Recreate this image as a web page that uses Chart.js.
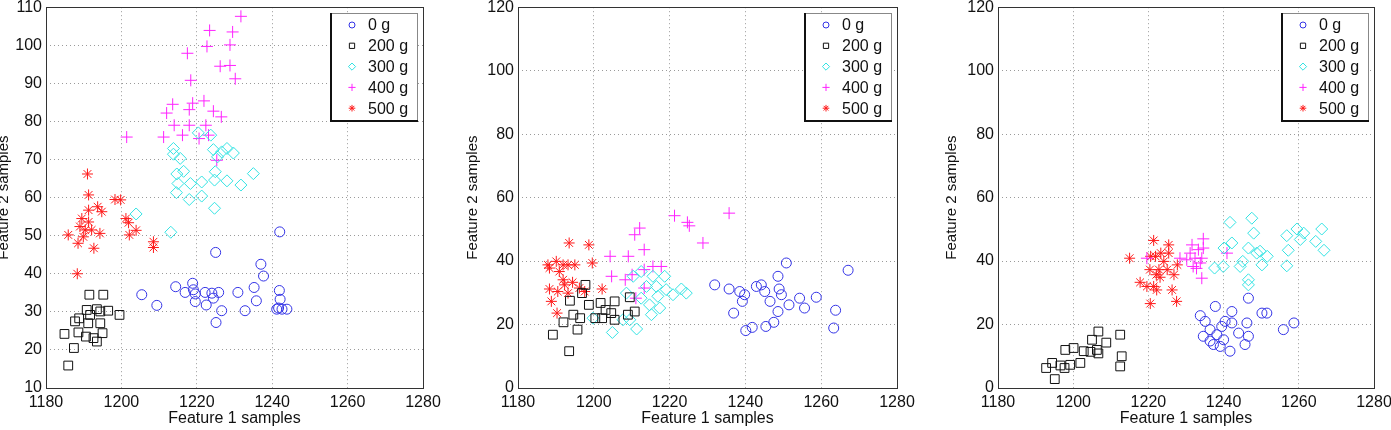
<!DOCTYPE html>
<html><head><meta charset="utf-8">
<script src="https://cdn.jsdelivr.net/npm/chart.js@4/dist/chart.umd.min.js"></script>
<style>
html,body{margin:0;padding:0;background:#fff;width:1391px;height:430px;overflow:hidden;position:relative}
canvas{position:absolute;top:0}
</style></head><body>
<canvas id="c1"></canvas><canvas id="c2"></canvas><canvas id="c3"></canvas>
<script>
const seriesLabels = ['0 g','200 g','300 g','400 g','500 g'];
const xTicks = [1180,1200,1220,1240,1260,1280];
const yTicks1 = [10,20,30,40,50,60,70,80,90,100,110];
const yTicks23 = [0,20,40,60,80,100,120];

// ---- Plot 1 ----
const p1_0g = [[1242,51],[1225,45.6],[1237,42.5],[1237.7,39.4],[1205.4,34.5],[1209.4,31.7],[1214.4,36.6],[1216.9,35.1],[1218.9,37.5],[1219.1,35.8],[1219.6,34.7],[1219.6,32.7],[1222.2,35.1],[1222.5,31.8],[1224,34.9],[1224.4,33.6],[1225.8,35.1],[1226.6,30.3],[1225.1,27.2],[1230.9,35.1],[1232.8,30.3],[1235.2,36.4],[1235.8,32.9],[1241.9,35.6],[1242.1,33.3],[1241.7,31],[1242.6,30.7],[1243.9,30.7],[1241.2,30.7]];
const p1_200g = [[1185.9,15.9],[1187.4,20.5],[1184.9,24.2],[1188.6,24.6],[1191.5,34.5],[1195.2,34.5],[1190.8,30.5],[1193.5,30.7],[1194.4,30.1],[1196.5,30.3],[1199.5,29.2],[1188.8,28.3],[1191.2,27],[1194.4,27],[1187.7,27.5],[1190.6,23.5],[1192.6,23.1],[1193.5,22.2],[1195,24.4],[1191.7,29.2]];
const p1_300g = [[1203.9,55.7],[1213.1,50.9],[1220.4,77],[1223.7,76.4],[1213.8,72.9],[1213.8,71.4],[1215.6,70.3],[1224.4,72.6],[1226.6,72],[1228,72.9],[1229.7,71.7],[1225.5,70.7],[1214.7,66.2],[1216.5,66.9],[1215,63.7],[1214.6,61.3],[1218.3,63.7],[1221.3,64.1],[1218,59.5],[1221.3,60.4],[1224.7,64.6],[1228,64.4],[1231.7,63.3],[1235,66.3],[1224.7,57.2],[1224.9,66.8]];
const p1_400g = [[1231.7,107.6],[1223.4,103.9],[1229.5,103.5],[1222.7,99.7],[1228.8,100.1],[1217.5,97.9],[1226.2,94.5],[1228.8,94.7],[1218.4,90.8],[1230.2,91.2],[1212,82.2],[1213.6,84.5],[1218,83.1],[1218.9,84.8],[1221.9,85.4],[1224.4,82.7],[1214,79],[1218,79],[1222.4,79],[1216.2,76.4],[1220.6,75.5],[1223.1,76.4],[1201.4,75.9],[1225.3,69.8],[1211.2,75.9],[1226.5,81.2]];
const p1_500g = [[1191,66.2],[1191.3,60.7],[1185.9,50.2],[1188.3,40],[1189.5,54.5],[1189,52.4],[1191.3,56.7],[1193.7,57.6],[1191.3,53.6],[1194.3,50.6],[1192.7,46.7],[1188.5,48],[1189.9,49.7],[1192.1,51.5],[1194.8,56.3],[1198.3,59.5],[1199.8,59.4],[1201.2,54.5],[1201.9,53.4],[1202.1,50.2],[1203.9,51.4],[1208.5,48.4],[1208.5,46.9],[1190.4,51.5]];

// ---- Plot 2 ----
const p2_0g = [[1231.9,32.5],[1235.7,31.2],[1236.9,23.6],[1238.5,30.4],[1239.2,27.3],[1239.8,29.4],[1240.1,18.1],[1241.8,19.1],[1242.9,32],[1244.2,32.5],[1245.1,30.4],[1246.5,27.3],[1245.4,19.4],[1247.5,20.7],[1248.6,35.2],[1248.9,31.2],[1249.5,29.4],[1248.6,24.1],[1250.8,39.4],[1251.5,26.2],[1254.3,28.3],[1255.6,25.2],[1258.7,28.6],[1263.8,24.5],[1263.3,18.9],[1267.1,37.1]];
const p2_200g = [[1189.2,16.8],[1193.5,11.6],[1193.7,27.5],[1192,20.7],[1194.6,23.1],[1195.7,18.4],[1196.4,22],[1196.9,29.9],[1197.8,32.5],[1198.7,26.2],[1200.4,22],[1201.8,26.8],[1202.2,22],[1204.6,23.6],[1205.5,21.5],[1205.5,27.3],[1209,23.1],[1209.5,28.6],[1210.8,24.1],[1203.1,24.6]];
const p2_300g = [[1204.9,17.5],[1199.8,22],[1208.6,29.9],[1209.5,21.5],[1211.3,18.6],[1210.4,35.2],[1212.5,28.3],[1213.9,32],[1214.7,26.2],[1215.2,23.1],[1215.6,35.2],[1216.9,28.9],[1217.4,25.2],[1218.7,35.2],[1219.1,31],[1220.9,29.4],[1223.1,31.2],[1224.4,29.9],[1212.5,36.7],[1216.5,32],[1207.7,21.5]];
const p2_400g = [[1221.3,54.3],[1224.7,52.2],[1225.2,51.1],[1235.7,55.1],[1228.8,45.7],[1212.1,50.4],[1210.8,48.3],[1213.3,43.6],[1204.3,41.5],[1209.1,41.5],[1204.7,35.2],[1210.1,35.7],[1213.3,37.3],[1215.6,38.3],[1217.8,38.3],[1213.3,31.5],[1211.1,28.3],[1208.3,34.1]];
const p2_500g = [[1193.5,45.7],[1198.7,45.1],[1187.9,38.8],[1190.1,39.9],[1191.9,38.8],[1193.2,38.8],[1195,38.8],[1188.3,37.8],[1190.9,36.7],[1191.9,34.1],[1194.4,33.3],[1199.6,39.4],[1188.3,31.2],[1190.5,30.4],[1193.2,29.9],[1197.6,30.4],[1202.2,31.2],[1188.8,27.3],[1190.3,23.6],[1196.2,31.5],[1192.3,32.5]];

// ---- Plot 3 ----
const p3_0g = [[1237.8,25.7],[1233.8,22.8],[1235.1,21],[1236.4,18.4],[1236.4,14.8],[1237.3,13.7],[1239.1,13.1],[1239.5,19.4],[1240.4,21],[1242.2,24.1],[1242.2,20.5],[1240,15.2],[1241.7,11.6],[1244,17.3],[1246.2,20.5],[1246.6,28.3],[1245.7,13.7],[1246.6,16.3],[1250.2,23.6],[1251.5,23.6],[1255.9,18.4],[1258.7,20.5],[1234.6,16.3],[1238.2,16.8]];
const p3_200g = [[1192.8,6.3],[1195.1,2.8],[1194.4,7.9],[1196.6,7.1],[1197.7,6.3],[1197.9,12],[1200.1,12.6],[1199.2,7.3],[1201.9,7.9],[1202.8,11.6],[1205,15.2],[1206.3,12],[1206.7,17.8],[1206.7,10.9],[1208.8,14.3],[1212.5,16.8],[1212.9,10],[1212.5,6.8],[1204.6,11.4]];
const p3_300g = [[1241.7,52.2],[1247.5,53.5],[1242.2,45.7],[1248,48.8],[1259.5,50.1],[1261.3,48.8],[1266.1,50.1],[1256.8,48],[1264.5,46.2],[1266.7,43.4],[1257.2,43.4],[1256.8,38.5],[1240.1,44.1],[1239.9,38.3],[1237.6,37.8],[1244.4,38.3],[1245.1,39.9],[1246.6,44.1],[1248.8,42.5],[1249.7,43.1],[1250.2,38.8],[1246.6,34.1],[1246.6,32.5],[1251.6,41.5],[1260.4,46.8]];
const p3_400g = [[1234.6,47],[1234.6,44.1],[1231.6,45.1],[1233.3,43.6],[1231.1,42.5],[1230.2,40.4],[1228.4,40.9],[1232.4,40.9],[1234.2,40.9],[1231.9,38.3],[1232.8,37.7],[1234.2,34.6],[1240.9,42.5],[1233.8,39.4],[1219.6,40.9]];
const p3_500g = [[1215,40.9],[1221.4,46.5],[1225.4,45.1],[1220.5,26.6],[1227.5,27.3],[1217.8,33.3],[1219.6,32],[1221.4,32],[1222.2,30.9],[1220.6,41.5],[1221.9,41.5],[1223.3,42.5],[1225.4,42.5],[1224.1,39.9],[1222.8,37.3],[1225,37.3],[1226.8,35.7],[1227.7,38.8],[1222.1,35.7],[1226.3,30.9],[1220.4,37.3],[1223.1,34.9]];

const FONT = 'Liberation Sans, Arial, sans-serif';
const styles = [
  {pointStyle:'circle', radius:5, color:'#3333e6'},
  {pointStyle:'rect', radius:6.2, color:'#111111'},
  {pointStyle:'rectRot', radius:6, color:'#33e3e3'},
  {pointStyle:'cross', radius:6, color:'#ff22ff'},
  {pointStyle:'star', radius:5.5, color:'#ff1a1a'}
];

function toPts(arr){ return arr.map(p => ({x:p[0], y:p[1]})); }

const framePlugin = {
  id:'frameLegend',
  afterDraw(chart){
    const ctx = chart.ctx, a = chart.chartArea;
    ctx.save();
    ctx.strokeStyle = '#333'; ctx.lineWidth = 1;
    ctx.strokeRect(Math.round(a.left)+0.5, Math.round(a.top)+0.5, Math.round(a.right-a.left), Math.round(a.bottom-a.top));
    // legend box
    const w = 87, h = 107;
    const bx = Math.round(a.right - 6 - w), by = Math.round(a.top + 6);
    ctx.fillStyle = '#fff';
    ctx.fillRect(bx, by, w, h);
    ctx.strokeStyle = '#888'; ctx.lineWidth = 1;
    ctx.strokeRect(bx+0.5, by+0.5, w, h);
    ctx.strokeStyle = '#111'; ctx.lineWidth = 2;
    ctx.beginPath(); ctx.moveTo(bx+1, by); ctx.lineTo(bx+1, by+h+1); ctx.lineTo(bx+w+1, by+h+1); ctx.stroke();
    ctx.font = '16px ' + FONT;
    ctx.textBaseline = 'middle'; ctx.textAlign = 'left';
    chart.data.datasets.forEach((ds, i) => {
      const y = by + 12 + i*20.8;
      ctx.strokeStyle = ds.borderColor; ctx.fillStyle = 'rgba(0,0,0,0)'; ctx.lineWidth = 1;
      Chart.helpers.drawPoint(ctx, {pointStyle: ds.pointStyle, radius: ds.pointRadius*0.6, borderWidth:1, rotation:0}, bx+22, y);
      ctx.fillStyle = '#111';
      ctx.fillText(ds.label, bx+38, y+1);
    });
    ctx.restore();
  }
};

function makeChart(id, left, width, yAxisW, rightPad, series, yMin, yMax, yTicks){
  const cv = document.getElementById(id);
  cv.style.left = left + 'px';
  cv.width = width; cv.height = 430;
  cv.style.width = width+'px'; cv.style.height = '430px';
  const datasets = series.map((s, i) => ({
    label: seriesLabels[i], data: toPts(s),
    pointStyle: styles[i].pointStyle, pointRadius: styles[i].radius,
    borderColor: styles[i].color, backgroundColor: 'rgba(0,0,0,0)',
    pointBorderWidth: 1, borderWidth: 1, showLine:false
  }));
  new Chart(cv, {
    type:'scatter',
    data:{datasets},
    options:{
      responsive:false, animation:false, devicePixelRatio:1,
      layout:{padding:{top:7, right:rightPad, bottom:0, left:0}},
      plugins:{legend:{display:false}, tooltip:{enabled:false}},
      elements:{point:{hoverRadius:5}},
      scales:{
        x:{type:'linear', min:1180, max:1280,
          afterBuildTicks(s){ s.ticks = xTicks.map(v => ({value:v})); },
          afterFit(s){ s.height = 42; s.paddingLeft = 0; s.paddingRight = 0; },
          grid:{color:'#9a9a9a', drawTicks:false, lineWidth:1},
          border:{display:false, dash:[1,3]},
          ticks:{padding:5, color:'#111', font:{family:FONT, size:16}, maxRotation:0, autoSkip:false, callback:v => String(v)},
          title:{display:true, text:'Feature 1 samples', color:'#111', font:{family:FONT, size:16}, padding:{top:0,bottom:2}}
        },
        y:{type:'linear', min:yMin, max:yMax,
          afterBuildTicks(s){ s.ticks = yTicks.map(v => ({value:v})); },
          afterFit(s){ s.width = yAxisW; s.paddingTop = 0; s.paddingBottom = 0; },
          grid:{color:'#9a9a9a', drawTicks:false, lineWidth:1},
          border:{display:false, dash:[1,3]},
          ticks:{padding:4, color:'#111', font:{family:FONT, size:16}, autoSkip:false, callback:v => String(v)},
          title:{display:true, text:'Feature 2 samples', color:'#111', font:{family:FONT, size:15}, padding:{top:0,bottom:0}}
        }
      }
    },
    plugins:[framePlugin]
  });
}

makeChart('c1', -5, 460, 51, 32, [p1_0g,p1_200g,p1_300g,p1_400g,p1_500g], 10, 110, yTicks1);
makeChart('c2', 464, 470, 54, 37, [p2_0g,p2_200g,p2_300g,p2_400g,p2_500g], 0, 120, yTicks23);
makeChart('c3', 943, 448, 55, 17, [p3_0g,p3_200g,p3_300g,p3_400g,p3_500g], 0, 120, yTicks23);
</script>
</body></html>
